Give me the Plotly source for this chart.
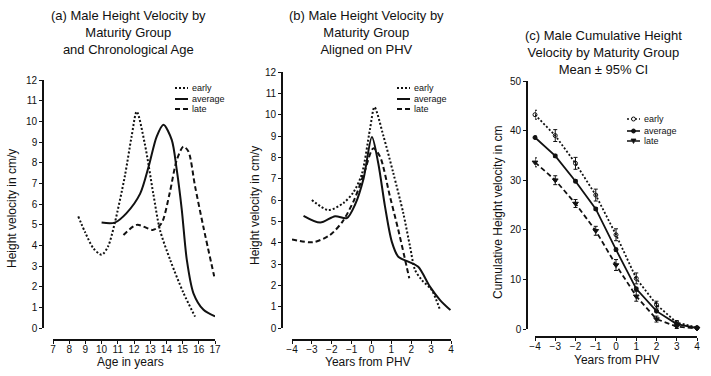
import plotly.graph_objects as go

# ---------------- data ----------------
# (a) velocity by chronological age
age_early = [8.56, 9.0, 9.5, 10.0, 10.4, 10.81, 11.43, 11.85, 12.17, 12.67, 13.19, 13.6, 14.23, 15.05, 15.77]
vel_early = [5.4, 4.6, 3.85, 3.54, 3.95, 5.07, 7.33, 9.26, 10.47, 8.9, 6.5, 4.75, 3.3, 1.7, 0.55]
age_avg = [10.0, 10.81, 11.54, 12.38, 12.9, 13.4, 13.82, 14.33, 14.64, 14.95, 15.26, 15.67, 16.29, 17.0]
vel_avg = [5.1, 5.1, 5.56, 6.5, 7.8, 9.26, 9.83, 9.1, 7.65, 5.72, 3.3, 1.68, 0.88, 0.56]
age_late = [11.35, 12.17, 13.19, 13.7, 14.2, 14.64, 15.05, 15.36, 15.77, 16.28, 16.95]
vel_late = [4.5, 4.99, 4.75, 5.07, 6.52, 8.13, 8.78, 8.54, 6.85, 4.9, 2.5]

# (b) velocity aligned on PHV
phv_early = [-3.0, -2.17, -1.42, -0.92, -0.49, -0.08, 0.15, 0.6, 1.1, 1.6, 1.94, 2.19, 2.53, 3.03, 3.45]
pv_early = [6.0, 5.53, 5.85, 6.35, 7.2, 9.3, 10.35, 9.0, 7.25, 5.38, 3.81, 2.72, 2.25, 1.78, 0.84]
phv_avg = [-3.42, -2.58, -1.83, -1.24, -0.82, -0.4, 0.02, 0.34, 0.68, 1.02, 1.35, 1.85, 2.35, 2.94, 3.45, 3.97]
pv_avg = [5.26, 4.94, 5.24, 5.15, 5.8, 7.0, 8.95, 7.72, 5.69, 4.05, 3.34, 3.11, 2.87, 1.94, 1.31, 0.84]
phv_late = [-4.0, -2.95, -2.1, -1.45, -0.85, -0.36, 0.09, 0.43, 0.93, 1.35, 1.77, 1.9]
pv_late = [4.15, 4.02, 4.35, 5.0, 6.05, 7.3, 8.42, 8.03, 6.16, 4.59, 2.87, 2.33]

# (c) cumulative height velocity, mean +/- 95% CI
years_c = [-4, -3, -2, -1, 0, 1, 2, 3, 4]
cum_early = [43.2, 39.0, 33.4, 27.0, 19.0, 10.2, 4.9, 1.3, 0.3]
ci_early = [0.9, 1.2, 1.2, 1.2, 1.2, 1.1, 0.7, 0.4, 0.2]
cum_avg = [38.6, 34.9, 29.8, 24.2, 16.0, 8.1, 3.6, 1.0, 0.2]
ci_avg = [0.3, 0.3, 0.3, 0.3, 0.3, 0.3, 0.2, 0.2, 0.1]
cum_late = [33.6, 30.0, 25.3, 19.8, 12.9, 6.6, 2.0, 0.5, 0.1]
ci_late = [0.9, 0.9, 0.8, 0.9, 1.1, 1.0, 0.6, 0.4, 0.2]

group_names = ["early", "average", "late"]
age_ticks = list(range(7, 18))
vel_ticks = list(range(0, 13))
phv_ticks = list(range(-4, 5))
cum_ticks = [0, 10, 20, 30, 40, 50]

# ---------------- helpers ----------------
W, H = 711, 376
def px(x):
    return x / W
def py(y):
    return 1 - y / H

FONT = "Liberation Sans, Arial, sans-serif"
INK = "#111111"
dashes = {"early": "2px,2px", "average": "solid", "late": "5px,3px"}

fig = go.Figure()

def add_line(x, y, name, xa, ya):
    fig.add_trace(go.Scatter(
        x=x, y=y, mode="lines", name=name, showlegend=False,
        line=dict(color=INK, width=2, dash=dashes[name], shape="spline", smoothing=0.8),
        xaxis=xa, yaxis=ya, cliponaxis=False))

add_line(age_early, vel_early, "early", "x", "y")
add_line(age_avg, vel_avg, "average", "x", "y")
add_line(age_late, vel_late, "late", "x", "y")

add_line(phv_early, pv_early, "early", "x2", "y2")
add_line(phv_avg, pv_avg, "average", "x2", "y2")
add_line(phv_late, pv_late, "late", "x2", "y2")

markers = {"early": dict(symbol="circle-open", size=4),
           "average": dict(symbol="circle", size=4),
           "late": dict(symbol="triangle-down", size=5)}
for name, ys, ci in [("early", cum_early, ci_early), ("average", cum_avg, ci_avg), ("late", cum_late, ci_late)]:
    fig.add_trace(go.Scatter(
        x=years_c, y=ys, mode="lines+markers", name=name, showlegend=False,
        line=dict(color=INK, width=1.8, dash=dashes[name]),
        marker=dict(color=INK, line=dict(color=INK, width=1), **markers[name]),
        error_y=dict(type="data", array=ci, color=INK, thickness=1, width=2),
        xaxis="x3", yaxis="y3", cliponaxis=False))

axis_common = dict(showline=True, linecolor=INK, linewidth=1.6, ticks="outside",
                   ticklen=3, tickwidth=1.4, tickcolor=INK, showgrid=False, zeroline=False,
                   automargin=False,
                   tickfont=dict(family=FONT, size=10, color=INK))
xaxis_extra = dict(ticklabelstandoff=-3)

fig.update_layout(
    width=W, height=H, margin=dict(l=0, r=0, t=0, b=0, pad=0, autoexpand=False),
    paper_bgcolor="white", plot_bgcolor="white", showlegend=False,
    font=dict(family=FONT, color=INK),
    xaxis=dict(domain=[px(53), px(215)], range=[7, 17], tickvals=age_ticks,
               anchor="free", position=py(340), **axis_common, **xaxis_extra),
    yaxis=dict(domain=[py(328), py(80)], range=[0, 12], tickvals=vel_ticks,
               anchor="free", position=px(43), **axis_common),
    xaxis2=dict(domain=[px(292), px(451)], range=[-4, 4], tickvals=phv_ticks,
                anchor="free", position=py(340), **axis_common, **xaxis_extra),
    yaxis2=dict(domain=[py(328), py(72)], range=[0, 12], tickvals=vel_ticks,
                anchor="free", position=px(282), **axis_common),
    xaxis3=dict(domain=[px(535), px(697)], range=[-4, 4], tickvals=phv_ticks,
                anchor="free", position=py(337), **axis_common, **xaxis_extra),
    yaxis3=dict(domain=[py(329), py(81)], range=[0, 50], tickvals=cum_ticks,
                anchor="free", position=px(527), **axis_common),
)

ann = []
def text(x, y, s, size, angle=0, xanchor="center", yanchor="middle"):
    ann.append(dict(x=px(x), y=py(y), xref="paper", yref="paper", text=s, showarrow=False,
                    textangle=angle, xanchor=xanchor, yanchor=yanchor,
                    font=dict(family=FONT, size=size, color=INK)))

# panel titles
text(128, 33, "(a) Male Height Velocity by<br>Maturity Group<br>and Chronological Age", 13)
text(366, 33, "(b) Male Height Velocity by<br>Maturity Group<br>Aligned on PHV", 13)
text(603, 52, "(c) Male Cumulative Height<br>Velocity by Maturity Group<br>Mean ± 95% CI", 13)

# axis titles
text(12, 209, "Height velocity in cm/y", 12, angle=-90)
text(130, 362, "Age in years", 12)
text(255, 206, "Height velocity in cm/y", 12, angle=-90)
text(368, 362, "Years from PHV", 12)
text(498, 213, "Cumulative Height velocity in cm", 12, angle=-90)
text(617, 360, "Years from PHV", 12)

# legends (manual)
shapes = []
def legend(x_line0, x_line1, ys, with_markers=False):
    for name, yy in zip(group_names, ys):
        shapes.append(dict(type="line", xref="paper", yref="paper",
                           x0=px(x_line0), x1=px(x_line1), y0=py(yy), y1=py(yy),
                           line=dict(color=INK, width=2 if not with_markers else 1.6,
                                     dash=dashes[name])))
        if with_markers:
            cx = (x_line0 + x_line1) / 2
            if name == "late":
                path = "M {:.4f},{:.4f} L {:.4f},{:.4f} L {:.4f},{:.4f} Z".format(
                    px(cx - 2.5), py(yy - 2), px(cx + 2.5), py(yy - 2), px(cx), py(yy + 2.5))
                shapes.append(dict(type="path", xref="paper", yref="paper", path=path,
                                   fillcolor=INK, line=dict(color=INK, width=0.8)))
            else:
                shapes.append(dict(type="circle", xref="paper", yref="paper",
                                   x0=px(cx - 2), x1=px(cx + 2), y0=py(yy + 2), y1=py(yy - 2),
                                   fillcolor="white" if name == "early" else INK,
                                   line=dict(color=INK, width=1)))
        text(x_line1 + 2, yy, name, 9, xanchor="left")

legend(175, 188, [88, 99, 109])
legend(397, 410, [88, 99, 109])
legend(627, 640, [119, 131, 141], with_markers=True)

fig.update_layout(annotations=ann, shapes=shapes)
fig.write_html("out.html", config={"displayModeBar": False},
               post_script="document.body.style.margin='0';document.body.style.overflow='hidden';")
